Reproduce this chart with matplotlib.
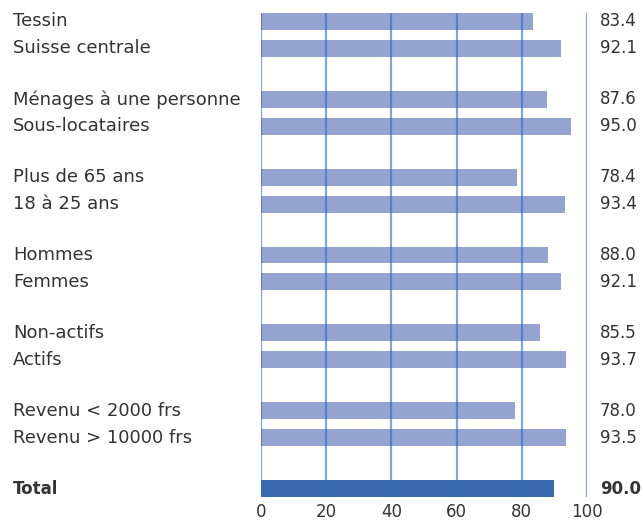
import numpy as np
import matplotlib.pyplot as plt

labels = ["Tessin", "Suisse centrale",
          "Ménages à une personne", "Sous-locataires",
          "Plus de 65 ans", "18 à 25 ans",
          "Hommes", "Femmes",
          "Non-actifs", "Actifs",
          "Revenu < 2000 frs", "Revenu > 10000 frs",
          "Total"]
values = [83.4, 92.1, 87.6, 95.0, 78.4, 93.4, 88.0, 92.1, 85.5, 93.7, 78.0, 93.5, 90.0]
value_text = ["83.4", "92.1", "87.6", "95.0", "78.4", "93.4", "88.0", "92.1",
              "85.5", "93.7", "78.0", "93.5", "90.0"]
xticks = [0, 20, 40, 60, 80, 100]

# rows come in pairs, with a wider gap between the pairs
gap = 1.89
ypos = []
y = 0.0
for i in range(len(labels)):
    ypos.append(y)
    y += 1.0 if i % 2 == 0 else gap
ypos = np.array(ypos)

bar_h = 0.63
fig = plt.figure(figsize=(6.42, 5.23), dpi=100)
ax = fig.add_axes([261 / 642, 1 - 497 / 523, 326 / 642, 484 / 523])

colors = ["#94a3d0"] * (len(labels) - 1) + ["#3a69b0"]
ax.barh(ypos, values, height=bar_h, color=colors, zorder=1)

for gx in xticks:
    ax.axvline(gx, color="#2f6bbf", alpha=0.6, lw=1.6, zorder=2)

ax.set_ylim(ypos[-1] + bar_h / 2, ypos[0] - bar_h / 2)
ax.set_xlim(0, 100)
for s in ax.spines.values():
    s.set_visible(False)

ax.set_yticks([])
ax.set_xticks(xticks)
ax.set_xticklabels([str(t) for t in xticks], fontsize=12, color="#333333")
ax.tick_params(axis="x", length=0, pad=4)

txt = "#333333"
for i, (lab, yy) in enumerate(zip(labels, ypos)):
    bold = "bold" if lab == "Total" else "normal"
    ax.text(-76.1, yy, lab, ha="left", va="center", fontsize=13 if bold != "bold" else 12,
            color=txt, fontweight=bold, clip_on=False)
    ax.text(104.0, yy, value_text[i], ha="left", va="center", fontsize=12,
            color=txt, fontweight=bold, clip_on=False)

fig.savefig("out.png", dpi=100)
